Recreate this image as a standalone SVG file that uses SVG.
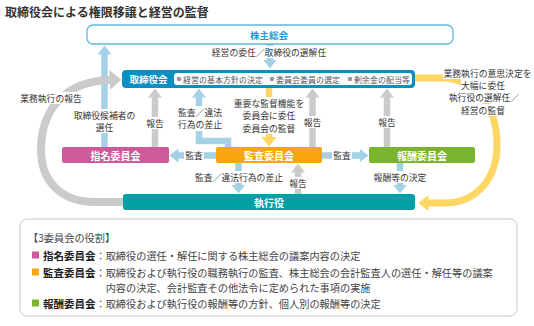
<svg xmlns="http://www.w3.org/2000/svg" width="534" height="326" viewBox="0 0 534 326">
<style>
text{font-family:"Noto Sans CJK JP","Noto Sans",sans-serif;}
.t{font-size:8.8px;fill:#333;text-anchor:middle;dominant-baseline:central;}
.nl{font-size:10px;font-weight:bold;fill:#fff;text-anchor:middle;dominant-baseline:central;}
.bg{fill:#fff;}
.blue{fill:none;stroke:#a3d2e7;stroke-width:6.5;}
.gray{fill:none;stroke:#c9cbcd;stroke-width:6.5;}
.yel{fill:none;stroke:#fdd663;stroke-width:6.5;}
.lg{font-size:10.2px;fill:#444;dominant-baseline:central;}
.lb{font-size:10.5px;font-weight:bold;fill:#222;}
.bl{font-size:8px;fill:#555;dominant-baseline:central;}
</style>
<defs>
<marker id="ab" markerUnits="userSpaceOnUse" viewBox="0 0 9 14" markerWidth="9" markerHeight="14" refX="0.5" refY="7" orient="auto"><path d="M0,0 L9,7 L0,14 Z" fill="#a3d2e7"/></marker>
<marker id="ag" markerUnits="userSpaceOnUse" viewBox="0 0 9 14" markerWidth="9" markerHeight="14" refX="0.5" refY="7" orient="auto"><path d="M0,0 L9,7 L0,14 Z" fill="#c9cbcd"/></marker>
<marker id="agb" markerUnits="userSpaceOnUse" viewBox="0 0 12 20" markerWidth="12" markerHeight="20" refX="0.5" refY="10" orient="auto"><path d="M0,0 L12,10 L0,20 Z" fill="#c9cbcd"/></marker>
<marker id="ay" markerUnits="userSpaceOnUse" viewBox="0 0 10 16" markerWidth="10" markerHeight="16" refX="0.5" refY="8" orient="auto"><path d="M0,0 L10,8 L0,16 Z" fill="#fdd663"/></marker>
</defs>

<text x="5" y="17" font-size="12" font-weight="bold" fill="#333">取締役会による権限移譲と経営の監督</text>

<g id="connectors">
<path class="blue" d="M104.5 148 L104.5 54" marker-end="url(#ab)"/>
<path class="blue" d="M270 44 L270 60" marker-end="url(#ab)"/>
<path class="gray" style="stroke-width:8" d="M124 202 L95 202 C60 202 41 180 41 150 C41 110 65 81 110 80" marker-end="url(#agb)"/>
<path class="gray" d="M155 147 L155 97" marker-end="url(#ag)"/>
<path class="blue" d="M228 147 L228 141 L199 141 L199 97" marker-end="url(#ab)"/>
<path class="yel" d="M269 88 L269 137" marker-end="url(#ay)"/>
<path class="gray" d="M312.5 147 L312.5 97" marker-end="url(#ag)"/>
<path class="gray" d="M387 147 L387 97" marker-end="url(#ag)"/>
<path class="blue" d="M216 155.5 L178 155.5" marker-end="url(#ab)"/>
<path class="blue" d="M322 155.5 L360 155.5" marker-end="url(#ab)"/>
<path class="blue" d="M238.5 163 L238.5 185" marker-end="url(#ab)"/>
<path class="gray" d="M298 194 L298 172" marker-end="url(#ag)"/>
<path class="blue" d="M400 163 L400 185" marker-end="url(#ab)"/>
<path class="yel" style="stroke-width:7" d="M414 78 L440 78 C475 78 497 105 497 145 C497 180 475 203 445 203 L428 203" marker-end="url(#ay)"/>

<rect class="bg" x="211" y="46" width="117" height="12"/>
<text class="t" x="269" y="52">経営の委任／取締役の選解任</text>
<rect class="bg" x="19" y="92" width="64" height="12"/>
<text class="t" x="51" y="98">業務執行の報告</text>
<rect class="bg" x="72" y="109" width="65" height="24"/>
<text class="t" x="104.5" y="115">取締役候補者の</text>
<text class="t" x="104.5" y="127">選任</text>
<rect class="bg" x="145" y="117" width="20" height="12"/>
<text class="t" x="155" y="123">報告</text>
<rect class="bg" x="177" y="106" width="46" height="25"/>
<text class="t" x="200" y="112">監査／違法</text>
<text class="t" x="200" y="124.5">行為の差止</text>
<rect class="bg" x="232" y="97" width="74" height="37"/>
<text class="t" x="269" y="103">重要な監督機能を</text>
<text class="t" x="269" y="115.5">委員会に委任</text>
<text class="t" x="269" y="128">委員会の監督</text>
<rect class="bg" x="302.5" y="116" width="20" height="12"/>
<text class="t" x="312.5" y="122">報告</text>
<rect class="bg" x="377" y="116" width="20" height="12"/>
<text class="t" x="387" y="122">報告</text>
<rect class="bg" x="184" y="149.5" width="20" height="12"/>
<text class="t" x="194" y="155.5">監査</text>
<rect class="bg" x="332" y="149.5" width="20" height="12"/>
<text class="t" x="342" y="155.5">監査</text>
<rect class="bg" x="194" y="171" width="90" height="12"/>
<text class="t" x="239" y="177">監査／違法行為の差止</text>
<rect class="bg" x="288" y="177" width="20" height="12"/>
<text class="t" x="298" y="183">報告</text>
<rect class="bg" x="373" y="171" width="54" height="12"/>
<text class="t" x="400" y="177">報酬等の決定</text>
<rect class="bg" x="443" y="67" width="90" height="12"/>
<text class="t" x="487.5" y="73">業務執行の意思決定を</text>
<rect class="bg" x="461" y="79" width="44" height="12"/>
<text class="t" x="483" y="85">大幅に委任</text>
<rect class="bg" x="449" y="91" width="70" height="12"/>
<text class="t" x="484" y="97">執行役の選解任／</text>
<rect class="bg" x="461" y="104" width="44" height="12"/>
<text class="t" x="483" y="110">経営の監督</text>
</g>

<g id="shareholders">
<rect x="87" y="25" width="366" height="19" rx="6" fill="#fff" stroke="#62b7dd" stroke-width="1.3"/>
<text x="269" y="34.5" font-size="9.5" font-weight="bold" fill="#1e9bd7" text-anchor="middle" dominant-baseline="central">株主総会</text>
</g>

<g id="board">
<rect x="122" y="70" width="293" height="18" rx="4" fill="#0b8ec2"/>
<rect x="174" y="73" width="238" height="12" rx="3" fill="#fff"/>
<text x="148.5" y="79" font-size="9.5" font-weight="bold" fill="#fff" text-anchor="middle" dominant-baseline="central">取締役会</text>
<circle cx="179" cy="79" r="2.3" fill="#999"/>
<text class="bl" x="183" y="79">経営の基本方針の決定</text>
<circle cx="272" cy="79" r="2.3" fill="#999"/>
<text class="bl" x="276" y="79">委員会委員の選定</text>
<circle cx="350" cy="79" r="2.3" fill="#999"/>
<text class="bl" x="354" y="79">剰余金の配当等</text>
</g>

<g id="nomination">
<rect x="62" y="147" width="107" height="16" rx="2" fill="#cf5a9b"/>
<text class="nl" x="115.5" y="155.5">指名委員会</text>
</g>
<g id="audit">
<rect x="216" y="147" width="106" height="16" rx="2" fill="#f8a50f"/>
<text class="nl" x="269" y="155.5">監査委員会</text>
</g>
<g id="compensation">
<rect x="369" y="147" width="106" height="16" rx="2" fill="#7bb42f"/>
<text class="nl" x="422" y="155.5">報酬委員会</text>
</g>
<g id="executive">
<rect x="123" y="194" width="292" height="16" rx="3" fill="#00a0a4"/>
<text class="nl" x="269" y="202">執行役</text>
</g>

<g id="legend">
<rect x="20" y="219" width="497" height="97" rx="7" fill="#fff" stroke="#c8c8c8" stroke-width="1"/>
<text class="lg" x="28" y="237">【3委員会の役割】</text>
<rect x="32" y="251.5" width="7" height="7" fill="#cf5a9b"/>
<text class="lg" x="43" y="255"><tspan class="lb">指名委員会</tspan>：取締役の選任・解任に関する株主総会の議案内容の決定</text>
<rect x="32" y="268.5" width="7" height="7" fill="#f8a50f"/>
<text class="lg" x="43" y="272"><tspan class="lb">監査委員会</tspan>：取締役および執行役の職務執行の監査、株主総会の会計監査人の選任・解任等の議案</text>
<text class="lg" x="105.7" y="287">内容の決定、会計監査その他法令に定められた事項の実施</text>
<rect x="32" y="299.5" width="7" height="7" fill="#7bb42f"/>
<text class="lg" x="43" y="303"><tspan class="lb">報酬委員会</tspan>：取締役および執行役の報酬等の方針、個人別の報酬等の決定</text>
</g>
</svg>
